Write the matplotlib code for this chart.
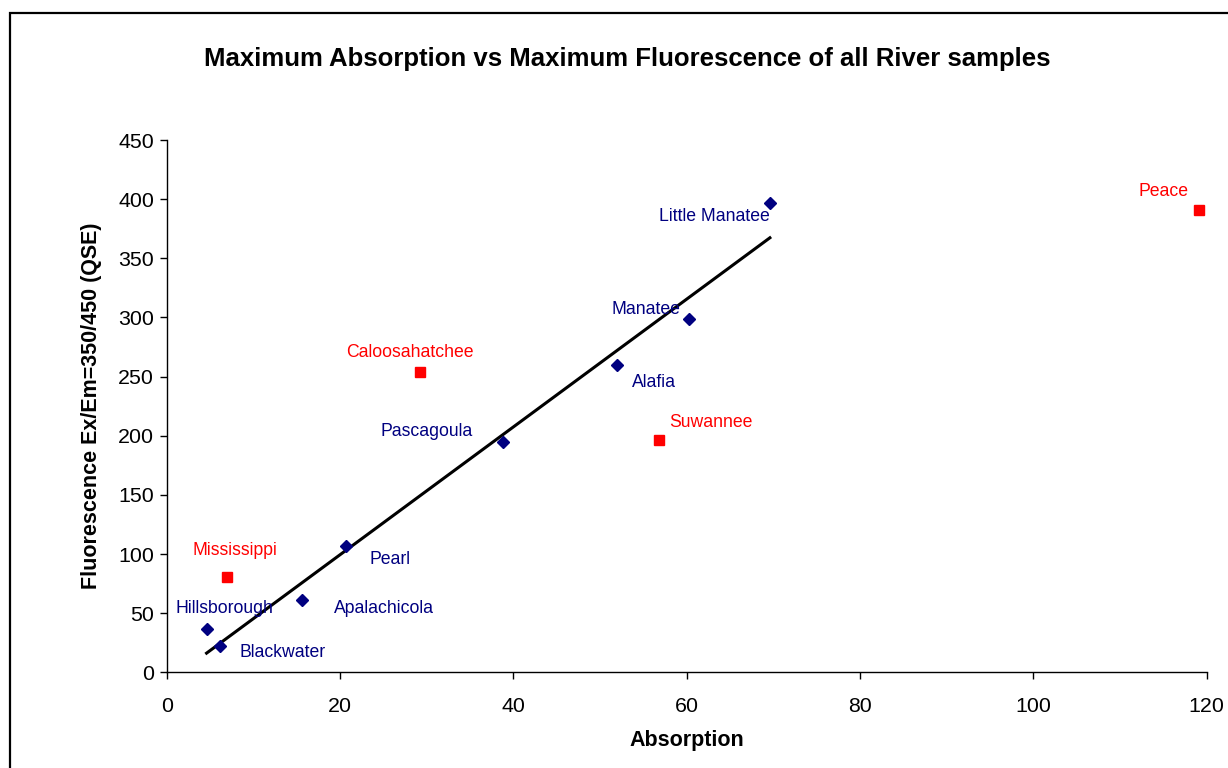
import numpy as np
import matplotlib
matplotlib.use("Agg")
import matplotlib.pyplot as plt
from matplotlib.patches import Rectangle

plt.rcParams["font.family"] = ["Liberation Sans", "DejaVu Sans"]

# ── data ───────────────────────────────────────────────────────────────────
fit_names = ["Hillsborough", "Blackwater", "Apalachicola", "Pearl",
             "Pascagoula", "Alafia", "Manatee", "Little Manatee"]
fit_abs = [4.6, 6.1, 15.6, 20.7, 38.8, 52.0, 60.3, 69.6]
fit_fl = [36.5, 21.9, 61.5, 106.7, 194.9, 259.7, 298.7, 397.0]

out_names = ["Mississippi", "Caloosahatchee", "Suwannee", "Peace"]
out_abs = [7.0, 29.2, 56.8, 119.1]
out_fl = [80.9, 254.0, 196.3, 390.6]

x_ticks = [0, 20, 40, 60, 80, 100, 120]
y_ticks = [0, 50, 100, 150, 200, 250, 300, 350, 400, 450]

# label placement (offset in pixels, horizontal alignment)
fit_lab = [(-31, 21, "left"), (20, -6, "left"), (32, -9, "left"), (23, -13, "left"),
           (-30, 10, "right"), (15, -17, "left"), (-9, 9, "right"), (0, -14, "right")]
out_lab = [(8, 26, "center"), (-10, 19, "center"), (10, 18, "left"), (-10, 19, "right")]

BLUE = "#000080"
RED = "#ff0000"

fig = plt.figure(figsize=(12.28, 7.68), dpi=100)
ax = fig.add_axes([166.7 / 1228, 95.7 / 768, 1040 / 1228, 532.3 / 768])

# outer chart border (only top and left visible in the crop)
fig.patches.append(Rectangle((10 / 1228, -0.1), 1.2, (768 - 13) / 768 + 0.1,
                             transform=fig.transFigure, fill=False,
                             edgecolor="black", linewidth=1.6))

ax.plot(fit_abs, fit_fl, "D", color=BLUE, ms=6, zorder=3)
ax.plot(out_abs, out_fl, "s", color=RED, ms=6.5, zorder=3)

# linear trendline through the blue samples
k, b = np.polyfit(fit_abs, fit_fl, 1)
xl = np.array([min(fit_abs), max(fit_abs)])
ax.plot(xl, k * xl + b, color="black", lw=2.2, zorder=2)

for name, x, y, (dx, dy, ha) in zip(fit_names, fit_abs, fit_fl, fit_lab):
    ax.annotate(name, (x, y), xytext=(dx, dy), textcoords="offset pixels",
                ha=ha, va="center", color=BLUE, fontsize=12.7)
for name, x, y, (dx, dy, ha) in zip(out_names, out_abs, out_fl, out_lab):
    ax.annotate(name, (x, y), xytext=(dx, dy), textcoords="offset pixels",
                ha=ha, va="center", color=RED, fontsize=12.7)

ax.set_xlim(0, 120)
ax.set_ylim(0, 450)
ax.set_xticks(x_ticks)
ax.set_yticks(y_ticks)
ax.spines["top"].set_visible(False)
ax.spines["right"].set_visible(False)
for s in ("left", "bottom"):
    ax.spines[s].set_linewidth(1.0)
ax.tick_params(axis="both", direction="out", length=5, width=1.0, labelsize=15.4)
ax.tick_params(axis="x", pad=13)
ax.tick_params(axis="y", pad=4)

ax.set_xlabel("Absorption", fontsize=15.5, fontweight="bold", labelpad=10)
ax.set_ylabel("Fluorescence Ex/Em=350/450 (QSE)", fontsize=15.5,
              fontweight="bold", labelpad=12)
fig.text(627 / 1228, 1 - 59 / 768,
         "Maximum Absorption vs Maximum Fluorescence of all River samples",
         ha="center", va="center", fontsize=18.5, fontweight="bold")

fig.savefig("out.png", dpi=100)
